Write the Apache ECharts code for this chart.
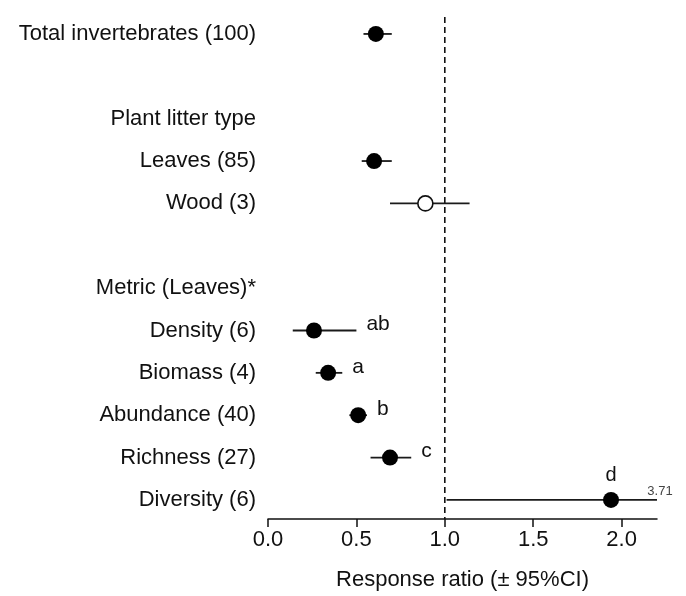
<!DOCTYPE html>
<html><head><meta charset="utf-8">
<script src="https://cdn.jsdelivr.net/npm/echarts@6/dist/echarts.min.js"></script>
<style>html,body{margin:0;padding:0;background:#fff}#c{width:686px;height:596px}</style>
</head><body><div id="c"></div>
<script>
// Rows from top to bottom ('' = blank spacer row)
const categories = ['Total invertebrates (100)', '', 'Plant litter type', 'Leaves (85)', 'Wood (3)', '', 'Metric (Leaves)*', 'Density (6)', 'Biomass (4)', 'Abundance (40)', 'Richness (27)', 'Diversity (6)'];
const means  = [0.61, null, null, 0.60, 0.89, null, null, 0.26, 0.34, 0.51, 0.69, 1.94];
const lower  = [0.54, null, null, 0.53, 0.69, null, null, 0.14, 0.27, 0.46, 0.58, 1.01];
const upper  = [0.70, null, null, 0.70, 1.14, null, null, 0.50, 0.42, 0.56, 0.81, 3.71];
const letters = ['', '', '', '', '', '', '', 'ab', 'a', 'b', 'c', 'd'];
const openMarker = [false, false, false, false, true, false, false, false, false, false, false, false];
const xTicks = [0, 0.5, 1, 1.5, 2];
const xMin = 0, xMax = 2.2;
const refValue = 1;

const FONT = 'Liberation Sans, Arial, sans-serif';
const labelRows = categories.map((c, i) => i).filter(i => categories[i] !== '');
const pts = [];
categories.forEach((c, i) => { if (means[i] != null) pts.push(i); });

const ciData = pts.map(i => [i, lower[i], upper[i]]);
const filledData = pts.filter(i => !openMarker[i]).map(i => [means[i], i]);
const openData = pts.filter(i => openMarker[i]).map(i => [means[i], i]);
const letterData = pts.filter(i => letters[i]).map(i => [i, means[i], upper[i]]);

const chart = echarts.init(document.getElementById('c'), null, {renderer: 'canvas'});
chart.setOption({
  backgroundColor: '#fff',
  animation: false,
  grid: {left: 268, right: 29, top: 17, bottom: 72},
  xAxis: {
    type: 'value', min: xMin, max: xMax, interval: 0.5,
    axisLine: {show: true, onZero: false, lineStyle: {color: '#111', width: 1.5}},
    axisTick: {show: true, customValues: xTicks, length: 8, lineStyle: {color: '#111', width: 1.5}},
    axisLabel: {customValues: xTicks, formatter: v => Number(v).toFixed(1), fontSize: 22, color: '#111', margin: 10, fontFamily: FONT},
    splitLine: {show: false},
    name: 'Response ratio (± 95%CI)', nameLocation: 'middle', nameGap: 50,
    nameTextStyle: {fontSize: 22, color: '#111', fontFamily: FONT}
  },
  yAxis: {
    type: 'value', inverse: true, min: -0.4, max: 11.45,
    axisLine: {show: false}, axisTick: {show: false}, splitLine: {show: false},
    axisLabel: {customValues: labelRows, formatter: v => categories[v], fontSize: 22, color: '#111', margin: 12, fontFamily: FONT}
  },
  series: [
    {
      type: 'line', data: [[refValue, -0.4], [refValue, 11.45]], symbol: 'none', silent: true,
      lineStyle: {color: '#111', width: 1.6, type: [6, 4]}, z: 1
    },
    {
      type: 'custom', clip: true, data: ciData, encode: {y: 0, x: [1, 2]}, silent: true, z: 2,
      renderItem: (params, api) => {
        const r = api.value(0);
        const p1 = api.coord([api.value(1), r]);
        const p2 = api.coord([Math.min(api.value(2), xMax), r]);
        return {type: 'line', shape: {x1: p1[0], y1: p1[1], x2: p2[0], y2: p2[1]}, style: {stroke: '#1a1a1a', lineWidth: 1.8}};
      }
    },
    {
      type: 'scatter', data: filledData, symbol: 'circle', symbolSize: 16, z: 3, silent: true,
      itemStyle: {color: '#000', opacity: 1}
    },
    {
      type: 'scatter', data: openData, symbol: 'circle', symbolSize: 15, z: 3, silent: true,
      itemStyle: {color: '#fff', borderColor: '#111', borderWidth: 1.6, opacity: 1}
    },
    {
      type: 'custom', data: letterData, encode: {y: 0, x: [1, 2]}, silent: true, z: 4,
      renderItem: (params, api) => {
        const r = api.value(0), m = api.value(1), hi = api.value(2);
        const i = letterData[params.dataIndex][0];
        const children = [];
        if (hi > xMax) {
          const p = api.coord([m, r]);
          children.push({type: 'text', style: {x: p[0], y: p[1] - 24, text: letters[i], align: 'center', verticalAlign: 'middle', fontSize: 20, fill: '#111', fontFamily: FONT}});
          const e = api.coord([xMax, r]);
          children.push({type: 'text', style: {x: e[0] + 3, y: e[1] - 2, text: String(hi), align: 'center', verticalAlign: 'bottom', fontSize: 13, fill: '#444', fontFamily: FONT}});
        } else {
          const p = api.coord([hi, r]);
          children.push({type: 'text', style: {x: p[0] + 10, y: p[1] - 6, text: letters[i], align: 'left', verticalAlign: 'middle', fontSize: 21, fill: '#111', fontFamily: FONT}});
        }
        return {type: 'group', children};
      }
    }
  ]
});
</script></body></html>
